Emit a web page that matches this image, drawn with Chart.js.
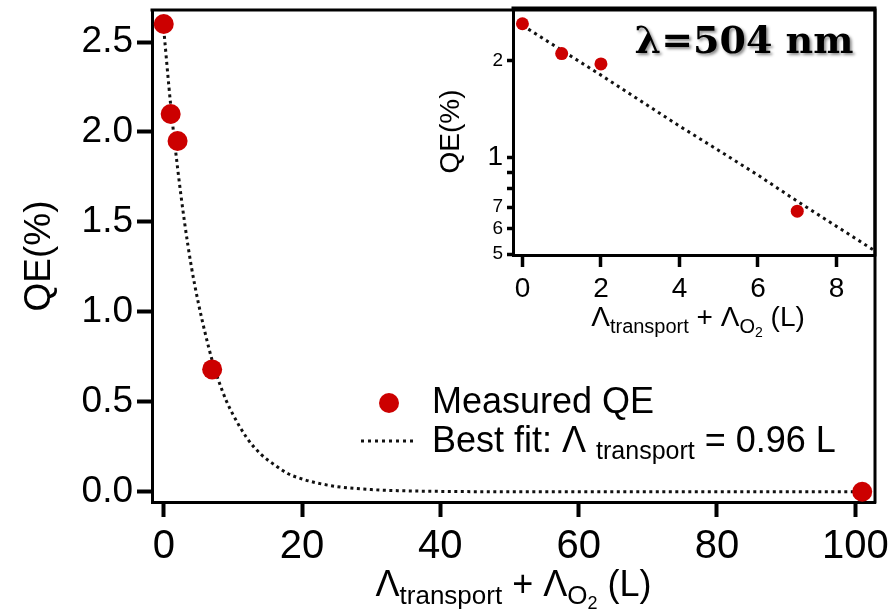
<!DOCTYPE html>
<html>
<head>
<meta charset="utf-8">
<script src="https://cdn.jsdelivr.net/npm/chart.js@4.4.1/dist/chart.umd.min.js"></script>
<style>
  html, body { margin: 0; padding: 0; background: #fff; }
  #wrap { position: relative; width: 891px; height: 614px; }
  #main { position: absolute; left: 0; top: 0; }
  #inset { position: absolute; left: 430px; top: 0; }
</style>
</head>
<body>
<div id="wrap">
  <canvas id="main" width="891" height="614"></canvas>
  <canvas id="inset" width="461" height="345"></canvas>
</div>
<script>
// measured QE points
const MEAS_X  = [0, 1, 2, 7, 101];
const MEAS_QE = [2.60, 2.10, 1.95, 0.68, 0.0];

// dotted best-fit curve
const FIT_X  = [0, 1, 2, 3, 4, 5, 6, 7, 8, 9, 10, 12, 14, 16, 18, 20, 22, 25, 30, 35, 40, 50, 60, 70, 80, 90, 100];
const FIT_QE = [2.57, 2.15, 1.80, 1.50, 1.25, 1.05, 0.88, 0.73, 0.61, 0.51, 0.43, 0.30, 0.21, 0.15, 0.10, 0.071, 0.050, 0.029, 0.012, 0.005, 0.002, 0, 0, 0, 0, 0, 0];

const MAIN_X_TICKS  = [0, 20, 40, 60, 80, 100];
const MAIN_Y_TICKS  = [0, 0.5, 1.0, 1.5, 2.0, 2.5];
const INSET_X_TICKS = [0, 2, 4, 6, 8];
const INSET_Y_TICKS  = [0.5, 0.6, 0.7, 0.8, 0.9, 1, 2];
const INSET_Y_LABELS = ['5', '6', '7', '', '', '1', '2'];

const RED = '#cc0000';
const INK = '#000';
const SANS = "'Liberation Sans', Arial, sans-serif";
const NARROW = "'Liberation Sans Narrow', 'Arial Narrow', 'Liberation Sans', sans-serif";

Chart.defaults.color = INK;
Chart.defaults.font.family = SANS;
Chart.defaults.animation = false;

function pts(xs, ys) {
  return xs.map((x, i) => ({ x, y: ys[i] }));
}

// pin the plot box: no extra room for overhanging tick labels
function noPad(s) {
  s.paddingTop = 0;
  s.paddingBottom = 0;
  s.paddingLeft = 0;
  s.paddingRight = 0;
}

// draws a line of text made of runs with their own font / baseline shift
function drawRuns(ctx, x, y, runs, align) {
  let w = 0;
  runs.forEach(r => { ctx.font = r.font; w += ctx.measureText(r.t).width; });
  let cx = align === 'center' ? x - w / 2 : x;
  ctx.textAlign = 'left';
  ctx.textBaseline = 'alphabetic';
  runs.forEach(r => {
    ctx.font = r.font;
    ctx.fillText(r.t, cx, y + (r.dy || 0));
    cx += ctx.measureText(r.t).width;
  });
}

// top + right edges of the box
const frame = {
  id: 'frame',
  afterDraw(chart) {
    const { ctx, chartArea: a } = chart;
    ctx.save();
    ctx.strokeStyle = INK;
    ctx.lineWidth = 3;
    ctx.lineCap = 'square';
    ctx.beginPath();
    ctx.moveTo(a.left, a.top);
    ctx.lineTo(a.right, a.top);
    ctx.lineTo(a.right, a.bottom);
    ctx.stroke();
    ctx.restore();
  }
};

// x title + legend for the main plot
const mainText = {
  id: 'mainText',
  afterDraw(chart) {
    const { ctx, chartArea: a } = chart;
    ctx.save();
    ctx.fillStyle = INK;
    drawRuns(ctx, (a.left + a.right) / 2, 596, [
      { t: 'Λ', font: `36px ${NARROW}` },
      { t: 'transport', font: `26px ${NARROW}`, dy: 8 },
      { t: ' + Λ', font: `36px ${NARROW}` },
      { t: 'O', font: `26px ${NARROW}`, dy: 8 },
      { t: '2', font: `18px ${NARROW}`, dy: 13 },
      { t: ' (L)', font: `36px ${NARROW}` },
    ], 'center');

    // legend
    ctx.fillStyle = RED;
    ctx.beginPath();
    ctx.arc(389, 403, 10, 0, Math.PI * 2);
    ctx.fill();
    ctx.strokeStyle = '#111';
    ctx.lineWidth = 3;
    ctx.setLineDash([3, 4]);
    ctx.beginPath();
    ctx.moveTo(361, 441);
    ctx.lineTo(417, 441);
    ctx.stroke();
    ctx.setLineDash([]);
    ctx.fillStyle = INK;
    drawRuns(ctx, 432, 413, [{ t: 'Measured QE', font: `36px ${SANS}` }], 'left');
    drawRuns(ctx, 432, 452, [
      { t: 'Best fit: Λ ', font: `36px ${SANS}` },
      { t: 'transport', font: `25px ${SANS}`, dy: 7 },
      { t: ' = 0.96 L', font: `36px ${SANS}` },
    ], 'left');
    ctx.restore();
  }
};

// x title + wavelength label for the inset
const insetText = {
  id: 'insetText',
  afterDraw(chart) {
    const { ctx, chartArea: a } = chart;
    ctx.save();
    ctx.fillStyle = INK;
    drawRuns(ctx, (a.left + a.right) / 2 + 4, 326, [
      { t: 'Λ', font: `28px ${NARROW}` },
      { t: 'transport', font: `20px ${NARROW}`, dy: 7 },
      { t: ' + Λ', font: `28px ${NARROW}` },
      { t: 'O', font: `20px ${NARROW}`, dy: 7 },
      { t: '2', font: `14px ${NARROW}`, dy: 11 },
      { t: ' (L)', font: `28px ${NARROW}` },
    ], 'center');

    ctx.shadowColor = 'rgba(0,0,0,0.45)';
    ctx.shadowOffsetX = 2;
    ctx.shadowOffsetY = 2;
    ctx.shadowBlur = 3;
    ctx.font = "bold 38px 'DejaVu Serif', serif";
    ctx.textAlign = 'center';
    ctx.textBaseline = 'alphabetic';
    ctx.fillText('λ=504 nm', 314, 53);
    ctx.restore();
  }
};

const axisLine = { display: true, width: 3, color: INK };

new Chart(document.getElementById('main'), {
  type: 'scatter',
  data: {
    datasets: [
      {
        label: 'Measured QE',
        data: pts(MEAS_X, MEAS_QE),
        pointRadius: 10,
        pointBackgroundColor: RED,
        pointBorderWidth: 0,
        showLine: false,
        clip: false,
        order: 0,
      },
      {
        label: 'Best fit',
        data: pts(FIT_X, FIT_QE),
        showLine: true,
        pointRadius: 0,
        borderColor: '#111',
        borderWidth: 3,
        borderDash: [3, 3.5],
        cubicInterpolationMode: 'monotone',
        order: 1,
      },
    ],
  },
  options: {
    responsive: false,
    devicePixelRatio: 1,
    layout: { padding: { top: 8, right: 16, left: 0, bottom: 0 } },
    plugins: { legend: { display: false }, tooltip: { enabled: false } },
    scales: {
      x: {
        type: 'linear',
        min: -1.7,
        max: 102.85,
        afterFit: s => { s.height = 112; noPad(s); },
        afterBuildTicks: s => { s.ticks = MAIN_X_TICKS.map(v => ({ value: v })); },
        border: axisLine,
        grid: { drawOnChartArea: false, tickLength: 15, tickWidth: 4, tickColor: INK },
        ticks: { padding: 6, maxRotation: 0, autoSkip: false, font: { family: NARROW, size: 40 } },
      },
      y: {
        type: 'linear',
        min: -0.057,
        max: 2.678,
        afterFit: s => { s.width = 152; noPad(s); },
        afterBuildTicks: s => { s.ticks = MAIN_Y_TICKS.map(v => ({ value: v })); },
        border: axisLine,
        grid: { drawOnChartArea: false, tickLength: 15, tickWidth: 4, tickColor: INK },
        ticks: { padding: 4, font: { size: 37 }, callback: v => v.toFixed(1) },
        title: { display: true, text: 'QE(%)', font: { size: 37 }, padding: { top: 18, bottom: 0 } },
      },
    },
  },
  plugins: [frame, mainText],
});

const insetMeas = pts(MEAS_X, MEAS_QE).filter(p => p.x <= 9);
const insetFit = pts(FIT_X, FIT_QE).filter(p => p.x <= 10);

new Chart(document.getElementById('inset'), {
  type: 'scatter',
  data: {
    datasets: [
      {
        data: insetMeas,
        pointRadius: 6.5,
        pointBackgroundColor: RED,
        pointBorderWidth: 0,
        showLine: false,
        order: 0,
      },
      {
        data: insetFit,
        showLine: true,
        pointRadius: 0,
        borderColor: '#111',
        borderWidth: 3,
        borderDash: [3, 4],
        order: 1,
      },
    ],
  },
  options: {
    responsive: false,
    devicePixelRatio: 1,
    layout: { padding: { top: 8, right: 16, left: 0, bottom: 0 } },
    plugins: { legend: { display: false }, tooltip: { enabled: false } },
    scales: {
      x: {
        type: 'linear',
        min: -0.24,
        max: 8.98,
        afterFit: s => { s.height = 90; noPad(s); },
        afterBuildTicks: s => { s.ticks = INSET_X_TICKS.map(v => ({ value: v })); },
        border: axisLine,
        grid: { drawOnChartArea: false, tickLength: 12, tickWidth: 3.5, tickColor: INK },
        ticks: { padding: 5, maxRotation: 0, autoSkip: false, font: { family: NARROW, size: 28 } },
      },
      y: {
        type: 'logarithmic',
        min: 0.497,
        max: 2.91,
        afterFit: s => { s.width = 83; noPad(s); },
        afterBuildTicks: s => { s.ticks = INSET_Y_TICKS.map(v => ({ value: v })); },
        border: axisLine,
        grid: { drawOnChartArea: false, tickLength: 6, tickWidth: 3.5, tickColor: INK },
        ticks: {
          padding: 4,
          autoSkip: false,
          font: c => ({ size: c.tick && c.tick.value === 1 ? 28 : 19 }),
          callback: (v, i) => INSET_Y_LABELS[i],
        },
        title: { display: true, text: 'QE(%)', font: { size: 28 }, padding: { top: 4, bottom: 0 } },
      },
    },
  },
  plugins: [frame, insetText],
});
</script>
</body>
</html>
